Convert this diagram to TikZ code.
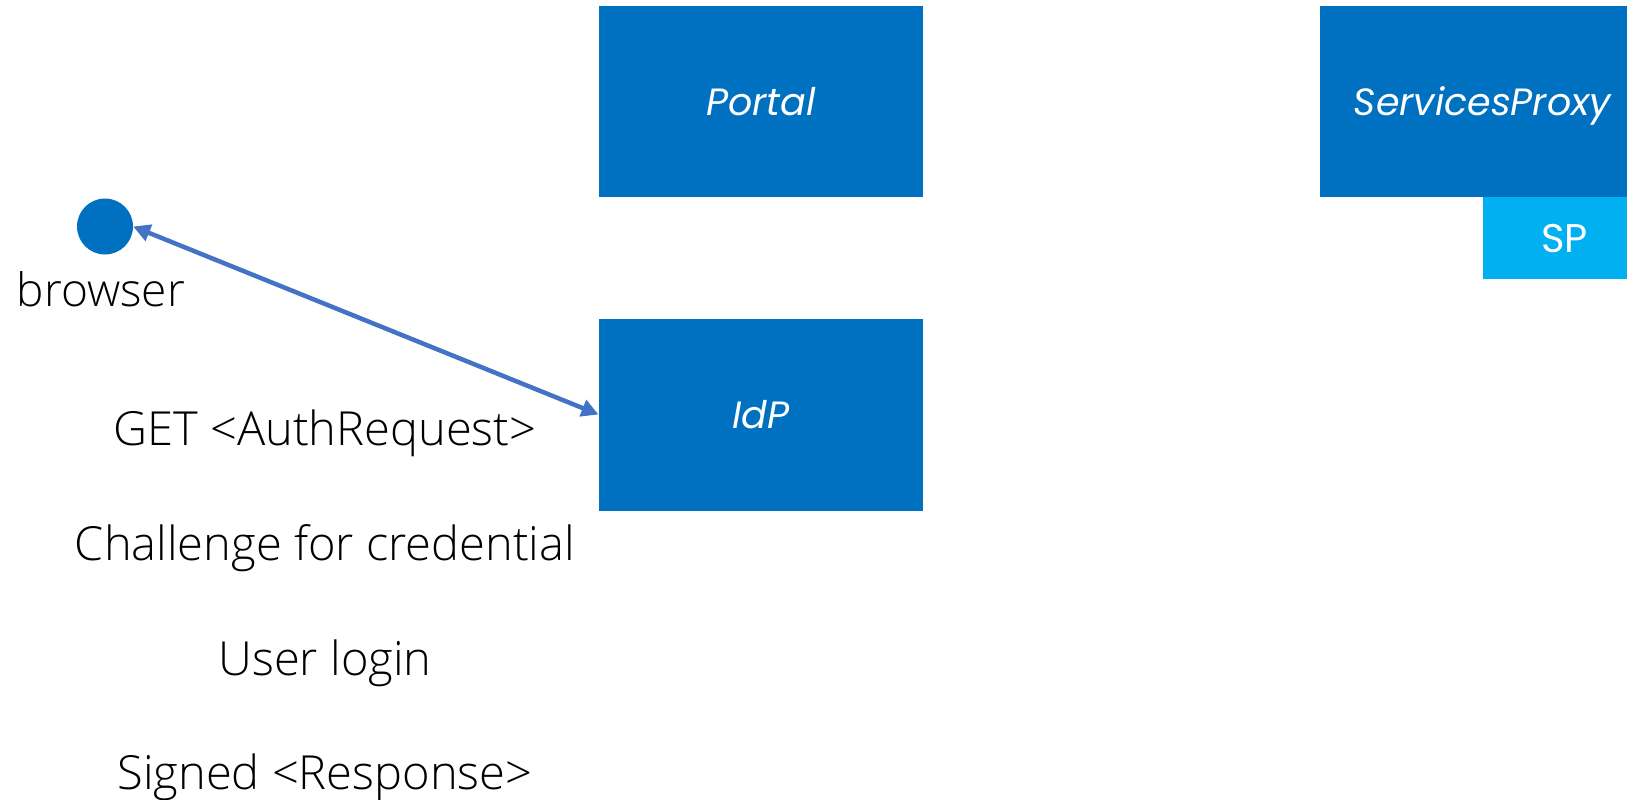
\documentclass[tikz,border=0pt]{standalone}
\usepackage{fontspec}
\setmainfont{Open Sans Light}
\newfontfamily\boxfont{Poppins}
\usetikzlibrary{arrows.meta}
\definecolor{boxblue}{HTML}{0070C0}
\definecolor{subblue}{HTML}{00B0F0}
\definecolor{linkblue}{HTML}{4472C4}
\tikzset{
  entity/.style={fill=boxblue, inner sep=0pt, text=white, minimum width=324.5pt,
    minimum height=191pt, font=\boxfont\itshape\fontsize{38}{46}\selectfont,
    text height=27pt, text depth=0pt},
  subentity/.style={fill=subblue, inner sep=0pt, text=white, minimum width=163pt,
    minimum height=81.5pt, font=\boxfont\fontsize{40}{48}\selectfont,
    text height=28pt, text depth=0pt},
  actor/.style={circle, fill=boxblue, minimum size=56pt, inner sep=0pt},
  caption/.style={anchor=base, inner sep=0pt, font=\fontsize{47}{56}\selectfont},
  flow/.style={draw=linkblue, line width=4.5pt,
    {Triangle[length=17pt,width=17pt]}-{Triangle[length=17pt,width=17pt]}}
}
\begin{document}
\begin{tikzpicture}[x=1pt,y=-1pt]
  \path[use as bounding box, clip] (0,0) rectangle (1627,800);

  % services
  \node[entity] (portal) at (761,101.5) {Portal};
  \node[entity, minimum height=192pt] (idp) at (761,414.5) {IdP};
  \node[entity] (proxy) at (1482.5,101.5) {ServicesProxy};
  \node[subentity] (sp) at (1564.5,238) {SP};

  % user agent
  \node[actor] (brw) at (105,226.5) {};
  \node[caption, font=\fontsize{46}{55}\selectfont] (brwlabel) at (101,306) {browser};

  % exchange between browser and identity provider
  \draw[flow] (brw.east) -- (idp.west);

  % protocol steps
  \node[caption] (s1) at (325,445) {GET <AuthRequest>};
  \node[caption] (s2) at (325,560) {Challenge for credential};
  \node[caption] (s3) at (325,675) {User login};
  \node[caption] (s4) at (325,789) {Signed <Response>};
\end{tikzpicture}
\end{document}
